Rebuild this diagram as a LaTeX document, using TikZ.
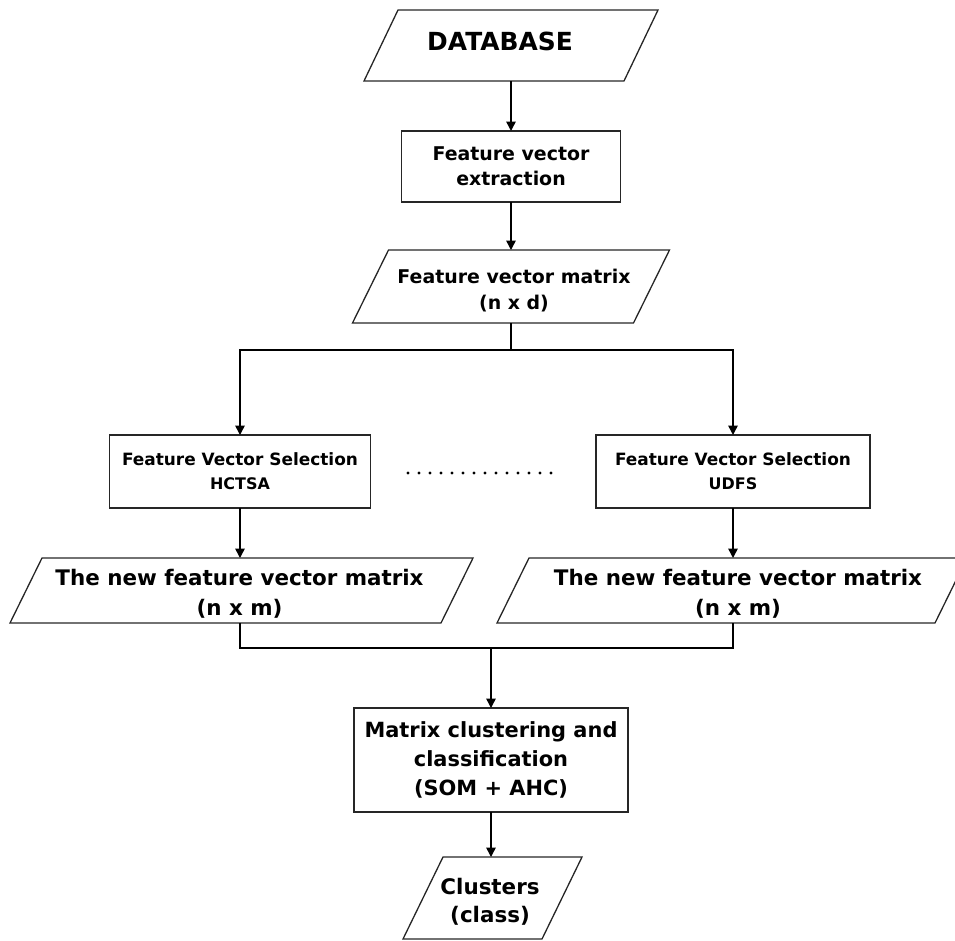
\documentclass[tikz,border=0pt]{standalone}
\usepackage{fontspec}
\setmainfont{DejaVu Sans}
\usetikzlibrary{arrows.meta}

% outline of a data (parallelogram) node: #1 node name, #2 horizontal slant
\newcommand\drawpara[2]{%
  \draw[shapeline] ([xshift=#2]#1.north west) -- (#1.north east)
    -- ([xshift=-#2]#1.south east) -- (#1.south west) -- cycle;}

\tikzset{
  shapeline/.style={line width=1.3bp, draw=black!85},
  procbox/.style={draw=black!85, line width=1.3bp, inner sep=0pt, outer sep=0pt, align=center},
  dataframe/.style={inner sep=0pt, outer sep=0pt},
  datatext/.style={inner sep=0pt, outer sep=0pt, align=center},
  fs/.style 2 args={font=\bfseries\fontsize{#1}{#2}\selectfont},
  flow/.style={line width=1.5bp, -{Triangle[length=9.5bp,width=9.5bp]}},
  link/.style={line width=1.5bp},
}

\begin{document}
\begin{tikzpicture}[x=1bp,y=-1bp]
\useasboundingbox (0,0) rectangle (955,941);
\clip (0,0) rectangle (955,941);

% input data
\node[dataframe, minimum width=294bp, minimum height=71bp] (db) at (511,45.5) {};
\drawpara{db}{34bp}
\node[datatext, fs={25}{30}] (dbtext) at ([shift={(-11,-4)}]db.center) {DATABASE};

\node[procbox, fs={19}{25}, minimum width=219bp, minimum height=71bp] (fve) at (511,166.5)
  {Feature vector\\ extraction};

\node[dataframe, minimum width=317bp, minimum height=73bp] (fvm) at (511,286.5) {};
\drawpara{fvm}{36bp}
\node[datatext, fs={19}{26}] (fvmtext) at ([shift={(3,4)}]fvm.center)
  {Feature vector matrix\\ (n x d)};

% two selection branches
\node[procbox, fs={17}{24}, minimum width=261bp, minimum height=73bp] (hctsa) at (240,471.5)
  {Feature Vector Selection\\ {\fontsize{16}{24}\selectfont HCTSA}};
\node[procbox, fs={17}{24}, minimum width=274bp, minimum height=73bp] (udfs) at (733,471.5)
  {Feature Vector Selection\\ {\fontsize{16}{24}\selectfont UDFS}};

% ellipsis between the selection methods
\foreach \i in {0,...,13}
  \fill (408+11*\i,473) circle (1.7bp);

\node[dataframe, minimum width=463bp, minimum height=65bp] (newl) at (241.5,590.5) {};
\drawpara{newl}{32bp}
\node[datatext, fs={21.5}{30}] (newltext) at ([shift={(-2,3)}]newl.center)
  {The new feature vector matrix\\ (n x m)};

\node[dataframe, minimum width=470bp, minimum height=65bp] (newr) at (732,590.5) {};
\drawpara{newr}{32bp}
\node[datatext, fs={21.5}{30}] (newrtext) at ([shift={(6,3)}]newr.center)
  {The new feature vector matrix\\ (n x m)};

% clustering and result
\node[procbox, fs={21}{29}, minimum width=274bp, minimum height=104bp] (mat) at (491,760)
  {Matrix clustering and\\ classification\\ (SOM + AHC)};

\node[dataframe, minimum width=179bp, minimum height=82bp] (clu) at (492.5,898) {};
\drawpara{clu}{40bp}
\node[datatext, fs={21.5}{28}] (clutext) at ([shift={(-2.5,4)}]clu.center)
  {Clusters\\ (class)};

% connectors
\coordinate (split) at (511,350);
\coordinate (join) at (491,648);

\draw[flow] (db.south) -- (db.south |- fve.north);
\draw[flow] (fve.south) -- (fve.south |- fvm.north);
\draw[link] (fvm.south) -- (split);
\draw[flow] (split) -| (hctsa.north);
\draw[flow] (split) -| (udfs.north);
\draw[flow] (hctsa.south) -- (hctsa.south |- newl.north);
\draw[flow] (udfs.south) -- (udfs.south |- newr.north);
\draw[link] (hctsa.south |- newl.south) |- (join);
\draw[link] (udfs.south |- newr.south) |- (join);
\draw[flow] (join) -- (mat.north);
\draw[flow] (mat.south) -- (mat.south |- clu.north);
\end{tikzpicture}
\end{document}
